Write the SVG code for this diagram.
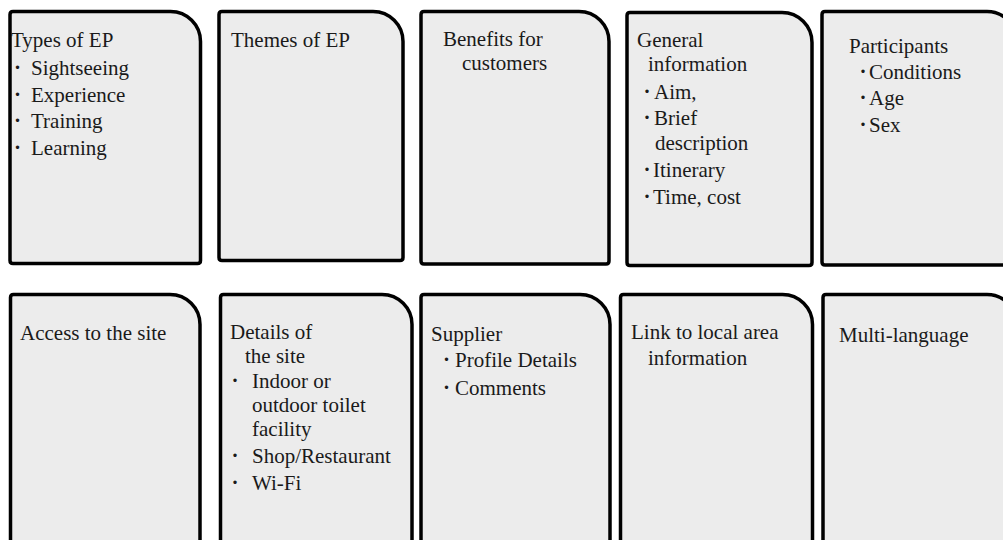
<svg xmlns="http://www.w3.org/2000/svg" width="1003" height="540" viewBox="0 0 1003 540">
  <style>
    .card { fill: #ececec; stroke: #000; stroke-width: 3.5; stroke-linejoin: round; }
    .t { font-family: "Liberation Serif", "Times New Roman", serif; font-size: 21px; fill: #1a1a1a; }
    .dot { font-weight: bold; }
  </style>
  <rect x="0" y="0" width="1003" height="540" fill="#fff"/>

  <!-- top row -->
  <g id="types-of-ep">
    <path class="card" d="M13,11.5 H170.5 A30,30 0 0 1 200.5,41.5 V260.5 Q200.5,263.5 197.5,263.5 H13 Q10,263.5 10,260.5 V14.5 Q10,11.5 13,11.5 Z"/>
    <text class="t" x="11" y="47">Types of EP</text>
    <text class="t" y="75"><tspan class="dot" x="14" dy="-1.5">·</tspan><tspan x="31" dy="1.5">Sightseeing</tspan></text>
    <text class="t" y="102"><tspan class="dot" x="14" dy="-1.5">·</tspan><tspan x="31" dy="1.5">Experience</tspan></text>
    <text class="t" y="128"><tspan class="dot" x="14" dy="-1.5">·</tspan><tspan x="31" dy="1.5">Training</tspan></text>
    <text class="t" y="155"><tspan class="dot" x="14" dy="-1.5">·</tspan><tspan x="31" dy="1.5">Learning</tspan></text>
  </g>

  <g id="themes-of-ep">
    <path class="card" d="M222,11.5 H373 A30,30 0 0 1 403,41.5 V257.5 Q403,260.5 400,260.5 H222 Q219,260.5 219,257.5 V14.5 Q219,11.5 222,11.5 Z"/>
    <text class="t" x="231" y="47">Themes of EP</text>
  </g>

  <g id="benefits">
    <path class="card" d="M424,11.5 H579 A30,30 0 0 1 609,41.5 V261 Q609,264 606,264 H424 Q421,264 421,261 V14.5 Q421,11.5 424,11.5 Z"/>
    <text class="t" x="443" y="46">Benefits for</text>
    <text class="t" x="462" y="70">customers</text>
  </g>

  <g id="general-information">
    <path class="card" d="M630,12.5 H782 A30,30 0 0 1 812,42.5 V262.5 Q812,265.5 809,265.5 H630 Q627,265.5 627,262.5 V15.5 Q627,12.5 630,12.5 Z"/>
    <text class="t" x="637" y="47">General</text>
    <text class="t" x="648" y="71">information</text>
    <text class="t" y="99"><tspan class="dot" x="643.5" dy="-1.5">·</tspan><tspan x="654" dy="1.5">Aim,</tspan></text>
    <text class="t" y="125"><tspan class="dot" x="643.5" dy="-1.5">·</tspan><tspan x="654" dy="1.5">Brief</tspan></text>
    <text class="t" x="655" y="150">description</text>
    <text class="t" y="177"><tspan class="dot" x="643.5" dy="-1.5">·</tspan><tspan x="653" dy="1.5">Itinerary</tspan></text>
    <text class="t" y="204"><tspan class="dot" x="643.5" dy="-1.5">·</tspan><tspan x="653" dy="1.5">Time, cost</tspan></text>
  </g>

  <g id="participants">
    <path class="card" d="M825,11.5 H987 A30,30 0 0 1 1017,41.5 V262 Q1017,265 1014,265 H825 Q822,265 822,262 V14.5 Q822,11.5 825,11.5 Z"/>
    <text class="t" x="849" y="53">Participants</text>
    <text class="t" y="79"><tspan class="dot" x="859.5" dy="-1.5">·</tspan><tspan x="869" dy="1.5">Conditions</tspan></text>
    <text class="t" y="105"><tspan class="dot" x="859.5" dy="-1.5">·</tspan><tspan x="869" dy="1.5">Age</tspan></text>
    <text class="t" y="132"><tspan class="dot" x="859.5" dy="-1.5">·</tspan><tspan x="869" dy="1.5">Sex</tspan></text>
  </g>

  <!-- bottom row (runs past the lower edge) -->
  <g id="access">
    <path class="card" d="M13.5,294.5 H170 A30,30 0 0 1 200,324.5 V560 H10.5 V297.5 Q10.5,294.5 13.5,294.5 Z"/>
    <text class="t" x="20" y="340">Access to the site</text>
  </g>

  <g id="site-details">
    <path class="card" d="M223.5,294.5 H382 A30,30 0 0 1 412,324.5 V560 H220.5 V297.5 Q220.5,294.5 223.5,294.5 Z"/>
    <text class="t" x="230" y="339">Details of</text>
    <text class="t" x="245" y="363">the site</text>
    <text class="t" y="388"><tspan class="dot" x="231.5" dy="-1.5">·</tspan><tspan x="252" dy="1.5">Indoor or</tspan></text>
    <text class="t" x="252" y="412">outdoor toilet</text>
    <text class="t" x="252" y="436">facility</text>
    <text class="t" y="463"><tspan class="dot" x="231.5" dy="-1.5">·</tspan><tspan x="252" dy="1.5">Shop/Restaurant</tspan></text>
    <text class="t" y="490"><tspan class="dot" x="231.5" dy="-1.5">·</tspan><tspan x="252" dy="1.5">Wi-Fi</tspan></text>
  </g>

  <g id="supplier">
    <path class="card" d="M424,294.5 H580 A30,30 0 0 1 610,324.5 V560 H421 V297.5 Q421,294.5 424,294.5 Z"/>
    <text class="t" x="431" y="341">Supplier</text>
    <text class="t" y="367"><tspan class="dot" x="443" dy="-1.5">·</tspan><tspan x="455" dy="1.5">Profile Details</tspan></text>
    <text class="t" y="395"><tspan class="dot" x="443" dy="-1.5">·</tspan><tspan x="455" dy="1.5">Comments</tspan></text>
  </g>

  <g id="local-area">
    <path class="card" d="M623.5,294.5 H782.5 A30,30 0 0 1 812.5,324.5 V560 H620.5 V297.5 Q620.5,294.5 623.5,294.5 Z"/>
    <text class="t" x="631" y="339">Link to local area</text>
    <text class="t" x="648" y="365">information</text>
  </g>

  <g id="multi-language">
    <path class="card" d="M826,294.5 H987 A30,30 0 0 1 1017,324.5 V560 H823 V297.5 Q823,294.5 826,294.5 Z"/>
    <text class="t" x="839" y="342">Multi-language</text>
  </g>

  <!-- no connectors between the cards -->
  <g id="connectors"/>
</svg>
